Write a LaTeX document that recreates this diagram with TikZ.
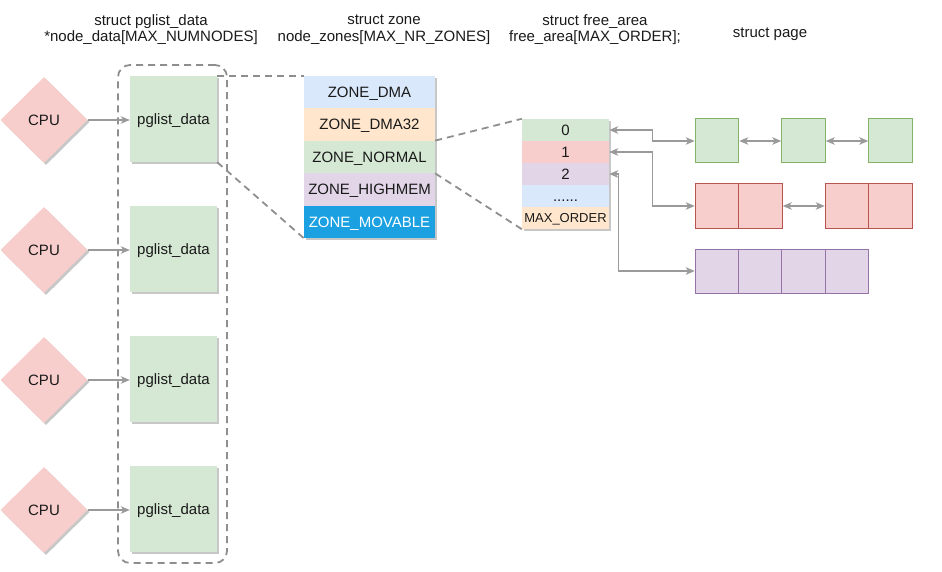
\documentclass[tikz,border=0pt]{standalone}
\usepackage{fontspec}
\setmainfont{Liberation Sans}
\usetikzlibrary{shapes.geometric,arrows.meta,shadows,calc}
\definecolor{txt}{HTML}{1A1A1A}
\definecolor{redf}{HTML}{F8CECC}
\definecolor{reds}{HTML}{B85450}
\definecolor{greenf}{HTML}{D5E8D4}
\definecolor{greens}{HTML}{82B366}
\definecolor{bluef}{HTML}{DAE8FC}
\definecolor{orangef}{HTML}{FFE6CC}
\definecolor{purplef}{HTML}{E1D5E7}
\definecolor{purples}{HTML}{9673A6}
\definecolor{movable}{HTML}{1BA1E2}
\definecolor{linegray}{HTML}{9A9A9A}
\definecolor{dashgray}{HTML}{8E8E8E}
\tikzset{
  every node/.style={font=\fontsize{15}{16.5}\selectfont, text=txt},
  ctext/.style={text height=10.7pt,text depth=0pt},
  shad/.style={drop shadow={shadow xshift=2pt,shadow yshift=-2pt,fill=black,opacity=0.22}},
  cpu/.style={diamond,aspect=1,fill=redf,draw=none,minimum width=87pt,minimum height=86pt,inner sep=0pt,shad,ctext},
  pgbox/.style={rectangle,fill=greenf,draw=none,minimum width=87pt,minimum height=86pt,inner sep=0pt,shad,ctext},
  zrow/.style={rectangle,draw=none,minimum width=131pt,minimum height=32.4pt,inner sep=0pt,ctext},
  frow/.style={rectangle,draw=none,minimum width=87pt,minimum height=22pt,inner sep=0pt,ctext},
  page/.style={rectangle,draw,line width=1pt,minimum width=43.5pt,minimum height=44pt,inner sep=0pt},
  gpage/.style={page,fill=greenf,draw=greens},
  rpage/.style={page,fill=redf,draw=reds},
  ppage/.style={page,fill=purplef,draw=purples},
  conn/.style={draw=linegray,line width=1.3pt,-{Stealth[length=9pt,width=7.5pt,inset=2.5pt]}},
  dconn/.style={draw=linegray,line width=1.3pt,{Stealth[length=9pt,width=7.5pt,inset=2.5pt]}-{Stealth[length=9pt,width=7.5pt,inset=2.5pt]}},
  dashln/.style={draw=dashgray,line width=1.8pt,dash pattern=on 7pt off 5pt},
  title/.style={align=center}
}
\begin{document}
\begin{tikzpicture}[x=1pt,y=-1pt]
\useasboundingbox (0,0) rectangle (942,572);
% titles
\node[title] (t1) at (151,29.5) {struct pglist\_data\\*node\_data[MAX\_NUMNODES]};
\node[title] (t2) at (384,29.5) {struct zone\\node\_zones[MAX\_NR\_ZONES]};
\node[title] (t3) at (595,29.5) {struct free\_area\\free\_area[MAX\_ORDER];};
\node (t4) at (770,34.5) {struct page};
% container
\node[dashln,rounded corners=12pt,minimum width=109pt,minimum height=498pt,inner sep=0pt] (cont) at (172.5,314) {};
% CPUs and pglist boxes
\foreach \i/\y in {1/120,2/250,3/380,4/510}{
  \node[cpu] (cpu\i) at (44,\y) {CPU};
  \node[pgbox] (pg\i) at (173.5,\y-1) {pglist\_data};
  \draw[conn] (cpu\i.east) -- (pg\i.west |- cpu\i.east);
}
% zone box
\fill[shad,white] (304,76) rectangle (435,238);
\node[zrow,fill=bluef] (z1) at (369.5,92.2) {ZONE\_DMA};
\node[zrow,fill=orangef] (z2) at (369.5,124.6) {ZONE\_DMA32};
\node[zrow,fill=greenf] (z3) at (369.5,157) {ZONE\_NORMAL};
\node[zrow,fill=purplef] (z4) at (369.5,189.4) {ZONE\_HIGHMEM};
\node[zrow,fill=movable,text=white] (z5) at (369.5,221.8) {ZONE\_MOVABLE};
% free area box
\fill[shad,white] (522,119) rectangle (609,229);
\node[frow,fill=greenf] (f0) at (565.5,130) {0};
\node[frow,fill=redf] (f1) at (565.5,152) {1};
\node[frow,fill=purplef] (f2) at (565.5,174) {2};
\node[frow,fill=bluef] (f3) at (565.5,196) {......};
\node[frow,fill=orangef,font=\fontsize{13}{15}\selectfont,text height=9.3pt] (f4) at (565.5,218) {MAX\_ORDER};
% dashed zoom lines
\draw[dashln] (pg1.north east) -- (z1.north west);
\draw[dashln] (pg1.south east) -- (z5.south west);
\draw[dashln] (z3.north east) -- (f0.north west);
\draw[dashln] (z3.south east) -- (f4.south west);
% pages
\node[gpage] (ga) at (717,141) {};
\node[gpage] (gb) at (803.5,141) {};
\node[gpage] (gc) at (890.5,141) {};
\node[rpage] (ra1) at (717,206) {};
\node[rpage] (ra2) at (760.5,206) {};
\node[rpage] (rb1) at (847,206) {};
\node[rpage] (rb2) at (890.5,206) {};
\node[ppage] (pa) at (717,271) {};
\node[ppage] (pb) at (760.5,271) {};
\node[ppage] (pc) at (803.5,271) {};
\node[ppage] (pd) at (847,271) {};
% connectors
\draw[dconn] (f0.east) -- ++(43,0) |- (ga.west);
\draw[dconn] (f1.east) -- ++(43,0) |- (ra1.west);
\draw[dconn] (f2.east) -- ++(9,0) |- (pa.west);
\draw[dconn] (ga.east) -- (gb.west);
\draw[dconn] (gb.east) -- (gc.west);
\draw[dconn] (ra2.east) -- (rb1.west);
\end{tikzpicture}
\end{document}
